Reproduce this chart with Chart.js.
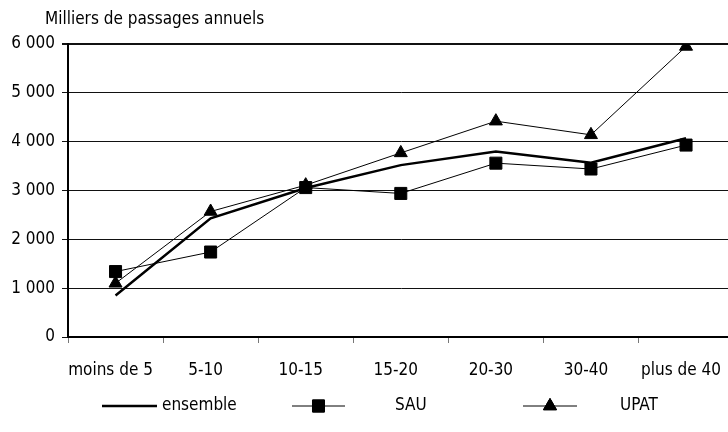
<!DOCTYPE html>
<html>
<head>
<meta charset="utf-8">
<script src="https://cdn.jsdelivr.net/npm/chart.js@4/dist/chart.umd.min.js"></script>
<style>
  html, body { margin: 0; padding: 0; background: #fff; overflow: hidden; }
  #chart { display: block; }
</style>
</head>
<body>
<canvas id="chart" width="743" height="432"></canvas>
<script>
const categories = ['moins de 5', '5-10', '10-15', '15-20', '20-30', '30-40', 'plus de 40'];
const ensemble = [850, 2430, 3050, 3520, 3800, 3570, 4070];
const sau = [1340, 1740, 3060, 2940, 3560, 3440, 3930];
const upat = [1100, 2570, 3110, 3770, 4420, 4140, 5950];
const yTicks = [0, 1000, 2000, 3000, 4000, 5000, 6000];
const yTitle = 'Milliers de passages annuels';

const FONT = "'Liberation Sans Narrow', 'Arial Narrow', 'DejaVu Sans Condensed', sans-serif";
const fmt = v => String(v).replace(/\B(?=(\d{3})+$)/, ' ');

// title + legend are drawn by hand, the excel way
const decor = {
    id: 'decor',
    afterDraw(chart) {
        const ctx = chart.ctx;
        ctx.save();
        ctx.fillStyle = '#000';
        ctx.font = '17px ' + FONT;
        ctx.textBaseline = 'middle';
        ctx.textAlign = 'left';
        ctx.fillText(yTitle, 45, 20);

        const legY = 406;
        const items = [
            { ds: 0, x1: 102, x2: 157, tx: 162 },
            { ds: 1, x1: 292, x2: 345, tx: 395 },
            { ds: 2, x1: 523, x2: 577, tx: 620 }
        ];
        for (const it of items) {
            const ds = chart.data.datasets[it.ds];
            ctx.strokeStyle = '#000';
            ctx.lineWidth = ds.borderWidth;
            ctx.beginPath();
            ctx.moveTo(it.x1, legY);
            ctx.lineTo(it.x2, legY);
            ctx.stroke();
            if (ds.pointRadius > 0) {
                ctx.fillStyle = '#000';
                Chart.helpers.drawPoint(ctx, {
                    pointStyle: ds.pointStyle, radius: ds.pointRadius,
                    borderWidth: 1, rotation: 0
                }, (it.x1 + it.x2) / 2, legY);
                ctx.fill();
                ctx.stroke();
            }
            ctx.fillStyle = '#000';
            ctx.fillText(ds.label, it.tx, legY);
        }
        ctx.restore();
    }
};

new Chart(document.getElementById('chart'), {
    type: 'line',
    data: {
        labels: categories,
        datasets: [
            { label: 'ensemble', data: ensemble, borderColor: '#000', borderWidth: 2.5, pointRadius: 0, tension: 0 },
            { label: 'SAU', data: sau, borderColor: '#000', backgroundColor: '#000', borderWidth: 1,
              pointStyle: 'rect', pointRadius: 8.5, pointHoverRadius: 8.5, tension: 0 },
            { label: 'UPAT', data: upat, borderColor: '#000', backgroundColor: '#000', borderWidth: 1,
              pointStyle: 'triangle', pointRadius: 7.5, pointHoverRadius: 7.5, tension: 0 }
        ]
    },
    options: {
        responsive: false,
        animation: false,
        devicePixelRatio: 1,
        layout: { autoPadding: false, padding: { top: 44, right: 0, bottom: 0, left: 0 } },
        plugins: {
            legend: { display: false },
            title: { display: false },
            tooltip: { enabled: false }
        },
        scales: {
            x: {
                offset: true,
                grid: { offset: true, drawOnChartArea: false, color: '#777', tickLength: 6 },
                border: { color: '#000', width: 2 },
                ticks: { color: '#000', font: { family: FONT, size: 17 }, padding: 17, labelOffset: -5, maxRotation: 0, autoSkip: false },
                afterFit(scale) { scale.height = 95; }
            },
            y: {
                min: 0,
                max: 6000,
                afterBuildTicks(scale) { scale.ticks = yTicks.map(v => ({ value: v })); },
                grid: { color: '#111', lineWidth: c => (c.index === yTicks.length - 1 ? 2 : 1), tickLength: 6 },
                border: { color: '#000', width: 2 },
                ticks: { color: '#000', font: { family: FONT, size: 17 }, padding: 7, callback: v => fmt(v) },
                afterFit(scale) { scale.width = 68; }
            }
        }
    },
    plugins: [decor]
});
</script>
</body>
</html>
